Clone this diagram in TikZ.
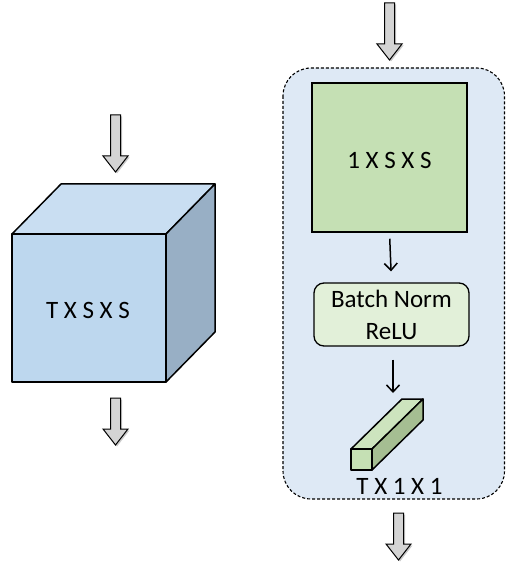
\documentclass[tikz,border=0pt]{standalone}
\usepackage{fontspec}
\setmainfont{Carlito}
\usetikzlibrary{shadows,arrows.meta}

\definecolor{cubefront}{HTML}{BDD7EE}
\definecolor{cubetop}{HTML}{C9DEF2}
\definecolor{cubeside}{HTML}{98AFC5}
\definecolor{panelfill}{HTML}{DEE9F5}
\definecolor{convfill}{HTML}{C5E0B4}
\definecolor{bnfill}{HTML}{E2F0D9}
\definecolor{barfront}{HTML}{C5E0B4}
\definecolor{bartop}{HTML}{CDE4BE}
\definecolor{barside}{HTML}{A5BE92}
\definecolor{arrowfill}{HTML}{D4D4D4}

\tikzset{
  face/.style={draw=black, line width=1.5pt, line join=round},
  blockarr/.style={draw=black, line width=1pt, fill=arrowfill, line join=miter,
    drop shadow={shadow xshift=1.5pt, shadow yshift=-1.5pt, opacity=0.35, fill=black!60}},
  thinarr/.style={draw=black, line width=1.5pt, -{Straight Barb[length=7pt,width=13pt]}},
  lbl/.style={font=\fontsize{25}{28}\selectfont, inner sep=0pt},
}

% block arrow pointing down: #1 = centre x, #2 = top y, #3 = tip y
\newcommand\DownBlock[3]{%
  \path[blockarr] (#1-5,#2) -- (#1+5,#2) -- (#1+5,#3-16) -- (#1+12.5,#3-16)
    -- (#1,#3) -- (#1-12.5,#3-16) -- (#1-5,#3-16) -- cycle;}

\begin{document}
\begin{tikzpicture}[x=1pt,y=-1pt]
\useasboundingbox (0,0) rectangle (506,577);

% ---- left: the T x S x S volume ----
\DownBlock{115.5}{115}{172}
\coordinate (cA) at (12,234);
\coordinate (cB) at (166,234);
\coordinate (cC) at (166,382);
\coordinate (cD) at (12,382);
\coordinate (cE) at (61,184);
\coordinate (cF) at (215,184);
\coordinate (cG) at (215,332);
\path[face, fill=cubetop] (cA) -- (cE) -- (cF) -- (cB) -- cycle;
\path[face, fill=cubeside] (cB) -- (cF) -- (cG) -- (cC) -- cycle;
\path[face, fill=cubefront] (cA) -- (cB) -- (cC) -- (cD) -- cycle;
\node[lbl] (vol) at (88,310) {T X S X S};
\DownBlock{115.5}{398}{445}

% ---- right: the convolution block ----
\DownBlock{389.5}{3}{60}
\draw[dash pattern=on 3pt off 2pt, line width=1.1pt, fill=panelfill, rounded corners=28pt]
  (283,68) rectangle (504.5,499);

\node[draw=black, line width=1.5pt, fill=convfill, minimum width=155pt,
  minimum height=149pt, inner sep=0pt] (conv) at (389.5,157.5) {};
\node[lbl] (convlbl) at (389.5,160) {1 X S X S};

\node[draw=black, line width=1.3pt, fill=bnfill, rounded corners=10pt,
  minimum width=155pt, minimum height=63pt, inner sep=0pt, align=center,
  font=\fontsize{25}{32}\selectfont] (bn) at (391.5,314.5) {Batch Norm\\ReLU};

\draw[thinarr, shorten <=6pt, shorten >=11pt] (conv.south) -- (bn.north);

% the T x 1 x 1 bar
\coordinate (bA) at (351,449);
\coordinate (bB) at (372,449);
\coordinate (bC) at (372,470);
\coordinate (bD) at (351,470);
\coordinate (bE) at (402,399);
\coordinate (bF) at (423,399);
\coordinate (bG) at (423,420);
\path[face, fill=bartop] (bA) -- (bE) -- (bF) -- (bB) -- cycle;
\path[face, fill=barside] (bB) -- (bF) -- (bG) -- (bC) -- cycle;
\path[face, fill=barfront] (bA) -- (bB) -- (bC) -- (bD) -- cycle;
\coordinate (bartopmid) at (393,399);
\draw[thinarr, shorten <=13pt, shorten >=6pt] (bn.south -| bartopmid) -- (bartopmid);
\node[lbl] (barlbl) at (399.5,486) {T X 1 X 1};

\DownBlock{398.5}{513}{560}
\end{tikzpicture}
\end{document}
